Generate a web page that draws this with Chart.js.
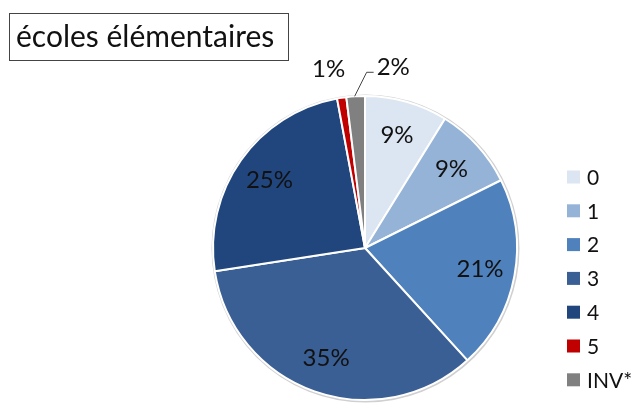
<!DOCTYPE html>
<html>
<head>
<meta charset="utf-8">
<script src="https://cdn.jsdelivr.net/npm/chart.js@4"></script>
<style>
  html, body { margin: 0; padding: 0; background: #fff; }
  #wrap { position: relative; width: 638px; height: 403px; }
  #title {
    position: absolute; left: 9px; top: 13px; width: 280px; height: 48px;
    border: 1.5px solid #444; box-sizing: border-box;
    font-family: Lato, "Open Sans", sans-serif; font-size: 30px; color: #111;
    line-height: 43px; padding-left: 6px; white-space: nowrap;
  }
  canvas { position: absolute; left: 0; top: 0; }
</style>
</head>
<body>
<div id="wrap">
  <canvas id="c" width="638" height="403"></canvas>
  <div id="title">écoles élémentaires</div>
</div>
<script>
// Share of elementary schools per category (percent)
const categories = ['0', '1', '2', '3', '4', '5', 'INV*'];
const shares = [9, 9, 21, 35, 25, 1, 2];
const colors = ['#dce6f2', '#95b3d7', '#4f81bd', '#3a5f94', '#21467e', '#c00000', '#808080'];

const FONT = 'Lato, "Open Sans", sans-serif';

// Soft grey rim behind the pie
const pieRim = {
  id: 'pieRim',
  beforeDatasetsDraw(chart) {
    const arc = chart.getDatasetMeta(0).data[0];
    if (!arc) return;
    const ctx = chart.ctx;
    ctx.save();
    ctx.strokeStyle = 'rgba(150,150,150,0.45)';
    ctx.lineWidth = 2;
    ctx.beginPath();
    ctx.arc(arc.x + 0.5, arc.y + 0.5, arc.outerRadius + 1, 0, Math.PI * 2);
    ctx.stroke();
    ctx.restore();
  }
};

// Percentage labels: inside big slices, outside for tiny ones
const sliceLabels = {
  id: 'sliceLabels',
  afterDatasetsDraw(chart) {
    const ctx = chart.ctx;
    const meta = chart.getDatasetMeta(0);
    ctx.save();
    ctx.font = '24px ' + FONT;
    ctx.fillStyle = '#111';
    ctx.textBaseline = 'middle';
    meta.data.forEach((arc, i) => {
      const mid = (arc.startAngle + arc.endAngle) / 2;
      const r = arc.outerRadius;
      const text = shares[i] + '%';
      if (shares[i] >= 5) {
        ctx.textAlign = 'center';
        ctx.fillText(text, arc.x + Math.cos(mid) * r * 0.77, arc.y + Math.sin(mid) * r * 0.77);
      } else {
        const ex = arc.x + Math.cos(mid) * r;
        const ey = arc.y + Math.sin(mid) * r;
        if (i === categories.length - 1) {
          // leader line to the right
          ctx.strokeStyle = '#444';
          ctx.lineWidth = 1;
          ctx.beginPath();
          ctx.moveTo(ex - 1, ey);
          ctx.lineTo(ex + 11, ey - 24);
          ctx.lineTo(ex + 18, ey - 24);
          ctx.stroke();
          ctx.textAlign = 'left';
          ctx.fillText(text, ex + 21, ey - 29);
        } else {
          ctx.textAlign = 'center';
          ctx.fillText(text, ex - 13, ey - 29);
        }
      }
    });
    ctx.restore();
  }
};

// Legend column on the right
const sideLegend = {
  id: 'sideLegend',
  afterDraw(chart) {
    const ctx = chart.ctx;
    ctx.save();
    ctx.font = '21px ' + FONT;
    ctx.textBaseline = 'middle';
    ctx.textAlign = 'left';
    categories.forEach((c, i) => {
      const y = 177 + i * 33.8;
      ctx.fillStyle = colors[i];
      ctx.fillRect(567, y - 6.5, 13, 13);
      ctx.fillStyle = '#111';
      ctx.fillText(c, 587, y + 1);
    });
    ctx.restore();
  }
};

new Chart(document.getElementById('c'), {
  type: 'pie',
  data: {
    labels: categories,
    datasets: [{
      data: shares,
      backgroundColor: colors,
      borderColor: '#ffffff',
      borderWidth: 2
    }]
  },
  options: {
    responsive: false,
    animation: false,
    rotation: 0,
    layout: { padding: { top: 95, bottom: 2, left: 212, right: 120 } },
    plugins: {
      legend: { display: false },
      tooltip: { enabled: false }
    }
  },
  plugins: [pieRim, sliceLabels, sideLegend]
});
</script>
</body>
</html>
